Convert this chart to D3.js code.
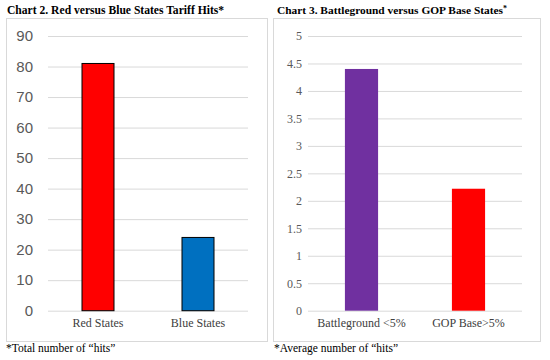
<!DOCTYPE html>
<html><head><meta charset="utf-8">
<script src="https://cdn.jsdelivr.net/npm/d3@7"></script>
<style>body{margin:0;background:#fff}svg{display:block}</style>
</head><body>
<svg id="c" width="550" height="360"></svg>
<script>
// Chart 2 data
const cats2 = ["Red States", "Blue States"];
const vals2 = [81, 24];
const cols2 = ["#FF0000", "#0070C0"];
const ticks2 = [0,10,20,30,40,50,60,70,80,90];
// Chart 3 data
const cats3 = ["Battleground <5%", "GOP Base>5%"];
const vals3 = [4.4, 2.22];
const cols3 = ["#7030A0", "#FF0000"];
const ticks3 = [0,0.5,1,1.5,2,2.5,3,3.5,4,4.5,5];

const svg = d3.select("#c");
const serif = "'Liberation Serif', 'Times New Roman', serif";
const sans = "'Liberation Sans', Arial, sans-serif";

function panel(opt){
  const g = svg.append("g");
  g.append("rect").attr("x",opt.box[0]+0.5).attr("y",opt.box[1]+0.5)
    .attr("width",opt.box[2]-opt.box[0]).attr("height",opt.box[3]-opt.box[1])
    .attr("fill","#fff").attr("stroke","#d9d9d9");
  const t = g.append("text").attr("x",opt.titleX).attr("y",14).attr("font-family",serif)
    .attr("font-weight","bold").attr("font-size",opt.titleSize).attr("fill","#000");
  t.append("tspan").text(opt.title);
  t.append("tspan").attr("font-size",opt.starSize).attr("dy",opt.starDy).text("*");
  g.append("text").attr("x",opt.footX).attr("y",352).attr("font-family",serif)
    .attr("font-size",11.5).attr("fill","#000").text(opt.foot);
  const x = d3.scaleBand().domain(opt.cats).range([opt.x0,opt.x1]).paddingInner(opt.pad).paddingOuter(opt.pad/2);
  const y = d3.scaleLinear().domain([0,opt.max]).range([310.7,36]);
  const grid = g.append("g").attr("transform",`translate(${opt.x0},0)`)
    .call(d3.axisLeft(y).tickValues(opt.ticks).tickSize(-(opt.x1-opt.x0)).tickFormat(""));
  grid.select(".domain").remove();
  grid.selectAll("line").attr("stroke","#d9d9d9");
  const ya = g.append("g").attr("transform",`translate(${opt.labX},0)`)
    .call(d3.axisLeft(y).tickValues(opt.ticks).tickSize(0).tickPadding(0).tickFormat(d3.format("")));
  ya.select(".domain").remove();
  ya.selectAll("text").attr("font-family",opt.tickFont).attr("font-size",opt.tickSize).attr("fill","#595959");
  g.selectAll(".bar").data(opt.vals).join("rect")
    .attr("x",(d,i)=>x(opt.cats[i])).attr("width",x.bandwidth())
    .attr("y",d=>y(d)).attr("height",d=>y(0)-y(d))
    .attr("fill",(d,i)=>opt.cols[i])
    .attr("stroke",opt.stroke?"#000":"none").attr("stroke-width",1);
  const xa = g.append("g").attr("transform",`translate(0,318)`)
    .call(d3.axisBottom(x).tickSize(0).tickPadding(0));
  xa.select(".domain").remove();
  xa.selectAll("text").attr("font-family",serif).attr("font-size",12).attr("fill","#404040");
}

panel({box:[6,18,267,341], title:"Chart 2. Red versus Blue States Tariff Hits", titleX:7, titleSize:11.6,
  starSize:11.6, starDy:0,
  foot:"*Total number of \u201chits\u201d", footX:6,
  cats:cats2, vals:vals2, cols:cols2, ticks:ticks2, max:90, x0:48, x1:248, pad:0.68,
  labX:33, tickFont:sans, tickSize:15, stroke:true});
panel({box:[273,18,540,341], title:"Chart 3. Battleground versus GOP Base States", titleX:277, titleSize:11.4,
  starSize:8, starDy:-3,
  foot:"*Average number of \u201chits\u201d", footX:274,
  cats:cats3, vals:vals3, cols:cols3, ticks:ticks3, max:5, x0:308, x1:522, pad:0.69,
  labX:302, tickFont:serif, tickSize:12, stroke:false});
</script>
</body></html>
